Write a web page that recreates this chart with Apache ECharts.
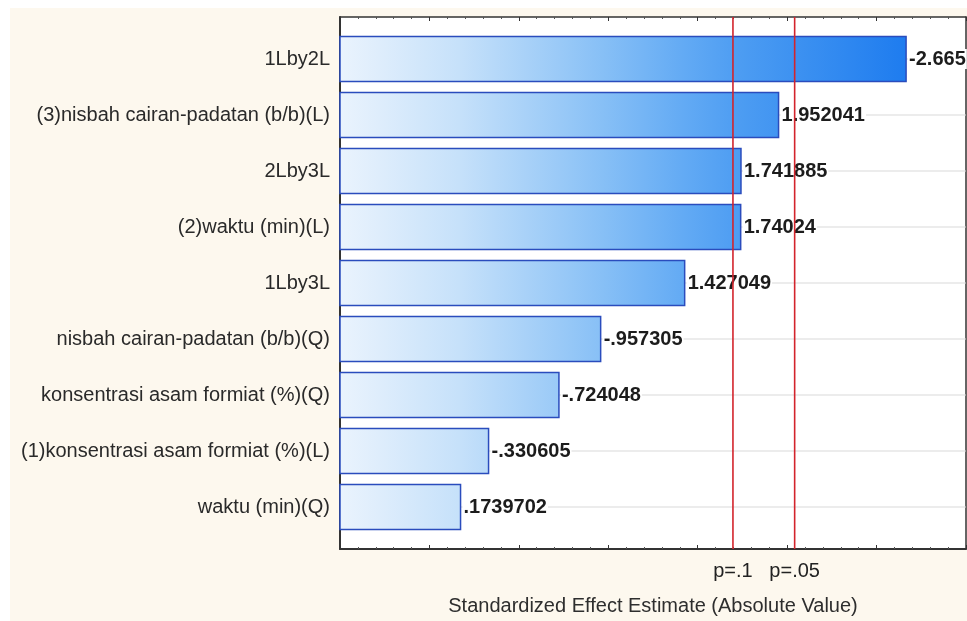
<!DOCTYPE html>
<html>
<head>
<meta charset="utf-8">
<title>Pareto Chart of Standardized Effects</title>
<script src="https://cdn.jsdelivr.net/npm/echarts@6/dist/echarts.min.js"></script>
<style>
  html, body { margin: 0; padding: 0; background: #ffffff; }
  #paper { position: absolute; left: 10px; top: 8px; right: 0; bottom: 0; background: #fdf8ee; }
  #chart { position: absolute; left: 0; top: 0; width: 967px; height: 621px; }
</style>
</head>
<body>
<div id="paper"></div>
<div id="chart"></div>
<script>
// Factor / interaction names, ordered from largest to smallest effect
const categories = [
  '1Lby2L',
  '(3)nisbah cairan-padatan (b/b)(L)',
  '2Lby3L',
  '(2)waktu (min)(L)',
  '1Lby3L',
  'nisbah cairan-padatan (b/b)(Q)',
  'konsentrasi asam formiat (%)(Q)',
  '(1)konsentrasi asam formiat (%)(L)',
  'waktu (min)(Q)'
];

// Standardized effect estimates (t-values, signed)
const effects = [-2.665, 1.952041, 1.741885, 1.74024, 1.427049, -0.957305, -0.724048, -0.330605, 0.1739702];

// Critical t-values for the significance reference lines
const criticalT = [1.697, 2.042];
const criticalLabels = ['p=.1', 'p=.05'];

const X_MIN = -0.5, X_MAX = 3.0;
const Y_MIN = -0.75, Y_MAX = 8.75;
const FONT = '"Liberation Sans", Arial, sans-serif';

// Statistica-style number text: drop the leading zero
function formatEffect(v) {
  return String(v).replace(/^(-?)0\./, '$1.');
}

const catIdx = categories.map((_, i) => i);
const minorIdx = [];
catIdx.forEach(i => { minorIdx.push(i - 1 / 3, i + 1 / 3); });

const chart = echarts.init(document.getElementById('chart'), null, { renderer: 'canvas' });

const longest = Math.max(...effects.map(Math.abs));

function renderBar(params, api) {
  const i = api.value(0);
  const mag = api.value(1);
  const start = api.coord([X_MIN, i]);
  const end = api.coord([mag, i]);
  const rowEnd = api.coord([X_MAX, i]);
  const h = api.size([0, 0.8])[1];
  const gx0 = api.coord([X_MIN, 0])[0];
  const gx1 = api.coord([longest, 0])[0];
  // one shared horizontal gradient across the plot, so colour depends on x only
  const fill = new echarts.graphic.LinearGradient(gx0, 0, gx1, 0, [
    { offset: 0, color: '#eaf3fd' },
    { offset: 0.21, color: '#c6e1fa' },
    { offset: 0.46, color: '#88c0f6' },
    { offset: 0.61, color: '#62aaf4' },
    { offset: 0.71, color: '#4c9cf2' },
    { offset: 1, color: '#1e7cef' }
  ], true);
  return {
    type: 'group',
    children: [
      {
        type: 'line',
        shape: { x1: start[0], y1: start[1], x2: rowEnd[0], y2: rowEnd[1] },
        style: { stroke: '#d9d9d9', lineWidth: 1 }
      },
      {
        type: 'rect',
        shape: { x: start[0], y: start[1] - h / 2, width: end[0] - start[0], height: h },
        style: { fill: fill, stroke: '#2a4cbd', lineWidth: 1.5 }
      },
      {
        type: 'text',
        x: end[0] + 2,
        y: end[1],
        style: {
          text: formatEffect(effects[i]),
          font: 'bold 20px ' + FONT,
          fill: '#1c1c1c',
          align: 'left',
          verticalAlign: 'middle',
          backgroundColor: '#ffffff',
          padding: [0, 1]
        }
      }
    ]
  };
}

function renderCritical(params, api) {
  const v = api.value(0);
  const top = api.coord([v, Y_MIN]);
  const bottom = api.coord([v, Y_MAX]);
  return {
    type: 'line',
    shape: { x1: top[0], y1: top[1], x2: bottom[0], y2: bottom[1] },
    style: { stroke: '#d3242c', lineWidth: 1.6 }
  };
}

const option = {
  backgroundColor: 'transparent',
  animation: false,
  grid: {
    left: 340, right: 1, top: 17, bottom: 71,
    show: true, backgroundColor: '#ffffff', borderWidth: 0
  },
  xAxis: [
    {
      type: 'value', position: 'bottom',
      min: X_MIN, max: X_MAX, interval: 0.5,
      name: 'Standardized Effect Estimate (Absolute Value)',
      nameLocation: 'middle', nameGap: 47,
      nameTextStyle: { fontSize: 20, color: '#2e2e2e', fontFamily: FONT },
      axisLine: { show: true, onZero: false, lineStyle: { color: '#333', width: 2 } },
      axisTick: { show: true, inside: true, length: 4, lineStyle: { color: '#333' } },
      minorTick: { show: true, splitNumber: 5, length: 2, lineStyle: { color: '#555' } },
      splitLine: { show: false },
      axisLabel: {
        customValues: criticalT,
        formatter: v => criticalLabels[criticalT.indexOf(v)],
        fontSize: 20, color: '#222', fontFamily: FONT, margin: 12
      }
    },
    {
      type: 'value', position: 'top',
      min: X_MIN, max: X_MAX, interval: 0.5,
      axisLine: { show: true, onZero: false, lineStyle: { color: '#333', width: 1.5 } },
      axisTick: { show: true, inside: true, length: 4, lineStyle: { color: '#333' } },
      minorTick: { show: true, splitNumber: 5, length: 2, lineStyle: { color: '#555' } },
      splitLine: { show: false },
      axisLabel: { show: false }
    }
  ],
  yAxis: [
    {
      type: 'value', position: 'left', inverse: true,
      min: Y_MIN, max: Y_MAX,
      axisLine: { show: true, onZero: false, lineStyle: { color: '#333', width: 2 } },
      axisTick: { show: true, inside: true, length: 4, customValues: catIdx, lineStyle: { color: '#333' } },
      splitLine: { show: false },
      axisLabel: {
        customValues: catIdx,
        formatter: v => categories[v],
        fontSize: 20, color: '#2a2a2a', fontFamily: FONT, margin: 10
      }
    },
    {
      type: 'value', position: 'left', inverse: true,
      min: Y_MIN, max: Y_MAX,
      axisLine: { show: false, onZero: false },
      axisTick: { show: true, inside: true, length: 2, customValues: minorIdx, lineStyle: { color: '#555' } },
      splitLine: { show: false },
      axisLabel: { show: false }
    },
    {
      type: 'value', position: 'right', inverse: true,
      min: Y_MIN, max: Y_MAX,
      axisLine: { show: true, onZero: false, lineStyle: { color: '#333', width: 1.5 } },
      axisTick: { show: false },
      splitLine: { show: false },
      axisLabel: { show: false }
    }
  ],
  series: [
    {
      name: 'effects',
      type: 'custom',
      xAxisIndex: 0, yAxisIndex: 0,
      renderItem: renderBar,
      encode: { x: 1, y: 0 },
      data: effects.map((v, i) => [i, Math.abs(v)]),
      z: 2
    },
    {
      name: 'critical',
      type: 'custom',
      xAxisIndex: 0, yAxisIndex: 0,
      renderItem: renderCritical,
      encode: { x: 0, y: 1 },
      data: criticalT.map(v => [v, 0]),
      z: 5
    }
  ]
};

chart.setOption(option);
</script>
</body>
</html>
